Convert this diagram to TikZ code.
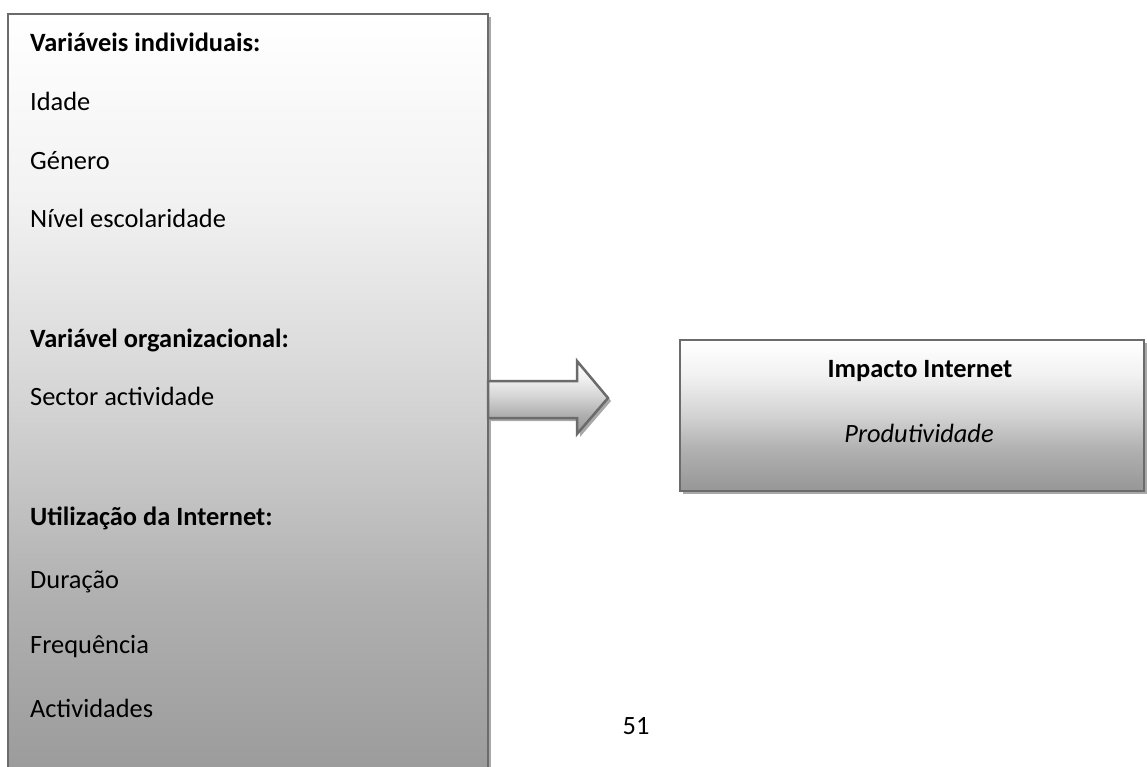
\documentclass[tikz,border=0pt]{standalone}
\usepackage{fontspec}
\setmainfont{Carlito}
\usetikzlibrary{shadows}

\definecolor{edgegray}{HTML}{6B6B6B}
\definecolor{shadowgray}{HTML}{A8A8A8}
\definecolor{gA}{HTML}{FFFFFF}
\definecolor{gB}{HTML}{F2F2F2}
\definecolor{gC}{HTML}{D5D5D5}
\definecolor{gD}{HTML}{B0B0B0}
\definecolor{gE}{HTML}{9C9C9C}
\definecolor{gF}{HTML}{979797}

% white at the top, fading to mid gray at the bottom
\pgfdeclareverticalshading{officegray}{100bp}{%
  color(0bp)=(gF); color(25bp)=(gF); color(28bp)=(gE); color(38.5bp)=(gD);
  color(51bp)=(gC); color(63.5bp)=(gB); color(75bp)=(gA); color(100bp)=(gA)}

\tikzset{
  panel/.style={draw=edgegray, line width=2.5pt, shading=officegray,
    inner sep=0pt, outer sep=0pt,
    drop shadow={shadow xshift=3pt, shadow yshift=-3pt, fill=shadowgray, opacity=1}},
  lbl/.style={inner sep=0pt, font=\fontsize{26.4}{30}\selectfont, text=black},
}

\begin{document}
\begin{tikzpicture}[x=1pt,y=-1pt]
\clip (0,0) rectangle (1147,767);
\fill[white] (0,0) rectangle (1147,767);

% left panel with the explanatory variables (runs past the lower edge)
\node[panel, minimum width=480pt, minimum height=800pt, anchor=north west] (vars) at (8,14) {};

\node[lbl, anchor=base west] (h1) at (30,52)  {\textbf{Variáveis individuais:}};
\node[lbl, anchor=base west] (v1) at (30,111) {Idade};
\node[lbl, anchor=base west] (v2) at (30,170) {Género};
\node[lbl, anchor=base west] (v3) at (30,228) {Nível escolaridade};
\node[lbl, anchor=base west] (h2) at (30,347) {\textbf{Variável organizacional:}};
\node[lbl, anchor=base west] (v4) at (30,405) {Sector actividade};
\node[lbl, anchor=base west] (h3) at (30,525) {\textbf{Utilização da Internet:}};
\node[lbl, anchor=base west] (v5) at (30,588) {Duração};
\node[lbl, anchor=base west] (v6) at (30,653) {Frequência};
\node[lbl, anchor=base west] (v7) at (30,717) {Actividades};

% right panel with the outcome
\node[panel, minimum width=464pt, minimum height=151pt, anchor=north west] (impact) at (680,340) {};
\node[lbl, anchor=base] (r1) at (920,377) {\textbf{Impacto Internet}};
\node[lbl, anchor=base] (r2) at (919,442) {\textit{Produtividade}};

% block arrow leaving the left panel
\coordinate (tail) at (vars.east |- 0,399.5);
\coordinate (tip) at (608,398);
\path[draw=edgegray, line width=2.5pt, line join=miter, shading=officegray,
      drop shadow={shadow xshift=3pt, shadow yshift=-3pt, fill=shadowgray, opacity=1}]
  ([yshift=18.5pt]tail) -- (577,381) -- (577,361) -- (tip) -- (577,434)
  -- (577,418) -- ([yshift=-18.5pt]tail) -- cycle;

% page number
\node[lbl, anchor=base] (pg) at (636,734) {51};
\end{tikzpicture}
\end{document}
